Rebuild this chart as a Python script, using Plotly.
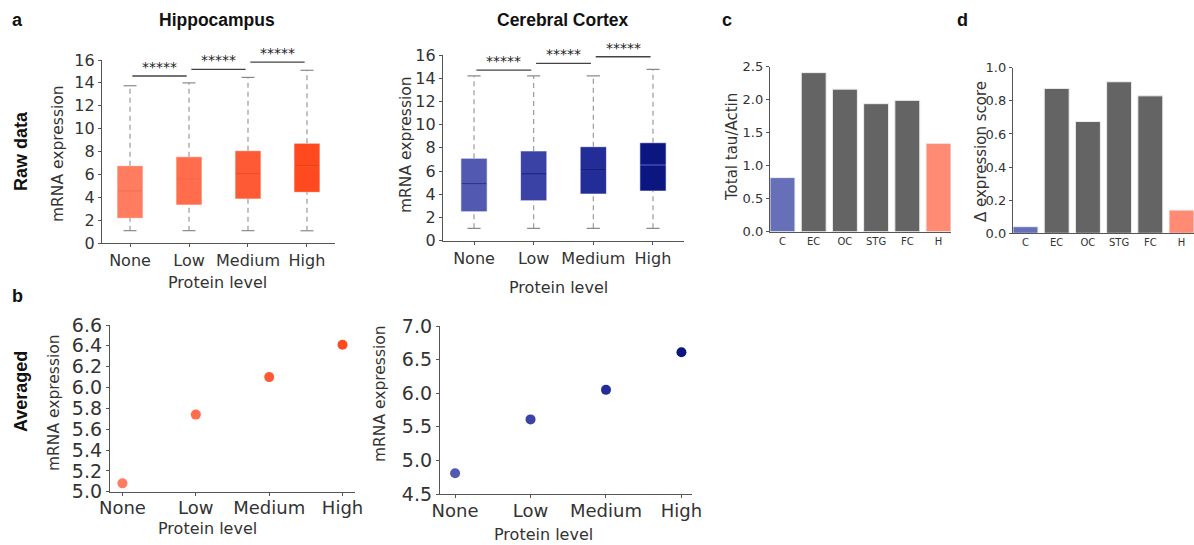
import plotly.graph_objects as go

W, H = 1194, 545

# ---------------- data ----------------
levels = ["None", "Low", "Medium", "High"]

hip_q1 = [2.16, 3.32, 3.85, 4.43]
hip_median = [4.55, 5.6, 6.09, 6.76]
hip_q3 = [6.76, 7.54, 8.07, 8.72]
hip_whisker_low = [1.08, 1.08, 1.08, 1.07]
hip_whisker_high = [13.75, 14.0, 14.48, 15.1]
hip_sig_y = [14.6, 15.18, 15.82]

ctx_q1 = [2.5, 3.45, 4.02, 4.28]
ctx_median = [4.9, 5.8, 6.15, 6.52]
ctx_q3 = [7.1, 7.73, 8.1, 8.44]
ctx_whisker_low = [1.07, 1.07, 1.07, 1.07]
ctx_whisker_high = [14.2, 14.2, 14.2, 14.77]
ctx_sig_y = [14.7, 15.28, 15.85]

hip_avg = [5.08, 5.74, 6.10, 6.41]
ctx_avg = [4.81, 5.61, 6.05, 6.61]

regions = ["C", "EC", "OC", "STG", "FC", "H"]
tau_actin = [0.82, 2.41, 2.16, 1.94, 1.99, 1.34]
delta_score = [0.04, 0.875, 0.675, 0.915, 0.83, 0.14]

sig_label = "*****"

# ---------------- styles ----------------
hip_colors = ["#FF7C60", "#FF6D4D", "#FF5A36", "#FF4A20"]
hip_median_colors = ["#F5674A", "#F55B3A", "#EE4D28", "#EA4218"]
ctx_colors = ["#5159B0", "#3A42A5", "#232D97", "#0B1680"]
ctx_median_colors = ["#2D3596", "#1D2690", "#141C80", "#2A36A0"]
bar_colors = ["#6570B8", "#646464", "#646464", "#646464", "#646464", "#FF8B74"]

AX = "#555555"
TXT = "#333333"
FONT = "DejaVu Sans"
BOLD = "Liberation Sans"


def fx(px):
    return px / W


def fy(py):
    return 1 - py / H


fig = go.Figure()


def box_panel(n, q1, med, q3, wlo, whi, sig, colors, mcolors):
    xa, ya = ("x" if n == 1 else f"x{n}"), ("y" if n == 1 else f"y{n}")
    xs = list(range(len(levels)))
    for i in xs:
        # whiskers (dashed)
        fig.add_trace(go.Scatter(
            x=[i, i, None, i, i], y=[wlo[i], q1[i], None, q3[i], whi[i]],
            mode="lines", line=dict(color="#9a9a9a", width=1.2, dash="5px,4px"),
            xaxis=xa, yaxis=ya, showlegend=False, hoverinfo="skip"))
        # caps
        fig.add_trace(go.Scatter(
            x=[i - 0.11, i + 0.11, None, i - 0.11, i + 0.11],
            y=[wlo[i], wlo[i], None, whi[i], whi[i]],
            mode="lines", line=dict(color="#8a8a8a", width=1.2),
            xaxis=xa, yaxis=ya, showlegend=False, hoverinfo="skip"))
        # box
        fig.add_trace(go.Box(
            x=[i], q1=[q1[i]], median=[med[i]], q3=[q3[i]],
            lowerfence=[q1[i]], upperfence=[q3[i]],
            width=0.44, fillcolor=colors[i],
            line=dict(color="rgba(255,255,255,0.6)", width=1),
            whiskerwidth=0, xaxis=xa, yaxis=ya, showlegend=False, hoverinfo="skip"))
        # median line
        fig.add_trace(go.Scatter(
            x=[i - 0.21, i + 0.21], y=[med[i], med[i]], mode="lines",
            line=dict(color=mcolors[i], width=1.5),
            xaxis=xa, yaxis=ya, showlegend=False, hoverinfo="skip"))
    # significance bars
    for k, s in enumerate(sig):
        fig.add_trace(go.Scatter(
            x=[k + 0.04, k + 0.96], y=[s, s], mode="lines",
            line=dict(color="#444444", width=1.3),
            xaxis=xa, yaxis=ya, showlegend=False, hoverinfo="skip"))
        fig.add_annotation(x=k + 0.5, y=s, xref=xa, yref=ya, text=sig_label,
                           showarrow=False, yanchor="bottom", yshift=-1,
                           font=dict(family=FONT, size=14, color="#222"))


box_panel(1, hip_q1, hip_median, hip_q3, hip_whisker_low, hip_whisker_high,
          hip_sig_y, hip_colors, hip_median_colors)
box_panel(2, ctx_q1, ctx_median, ctx_q3, ctx_whisker_low, ctx_whisker_high,
          ctx_sig_y, ctx_colors, ctx_median_colors)

fig.add_trace(go.Bar(x=list(range(len(regions))), y=tau_actin, marker=dict(
    color=bar_colors, line=dict(color="#eeeeee", width=1)), width=0.8,
    xaxis="x3", yaxis="y3", showlegend=False, hoverinfo="skip"))
fig.add_trace(go.Bar(x=list(range(len(regions))), y=delta_score, marker=dict(
    color=bar_colors, line=dict(color="#eeeeee", width=1)), width=0.8,
    xaxis="x4", yaxis="y4", showlegend=False, hoverinfo="skip"))

fig.add_trace(go.Scatter(x=list(range(4)), y=hip_avg, mode="markers",
                         marker=dict(color=hip_colors, size=10),
                         xaxis="x5", yaxis="y5", showlegend=False, hoverinfo="skip"))
fig.add_trace(go.Scatter(x=list(range(4)), y=ctx_avg, mode="markers",
                         marker=dict(color=ctx_colors, size=10),
                         xaxis="x6", yaxis="y6", showlegend=False, hoverinfo="skip"))


def xaxis(anchor, x0, x1, rng, ticktext, size, ticks="outside", standoff=0):
    return dict(domain=[fx(x0), fx(x1)], anchor=anchor, range=rng, automargin=False,
                tickmode="array", tickvals=list(range(len(ticktext))), ticktext=ticktext,
                showline=True, linecolor=AX, linewidth=1.3, ticks=ticks, ticklen=3,
                tickcolor=AX, showgrid=False, zeroline=False, ticklabelstandoff=standoff,
                tickfont=dict(family=FONT, size=size, color=TXT), fixedrange=True)


def yaxis(anchor, y_top, y_bot, rng, dtick, fmt, size):
    return dict(domain=[fy(y_bot), fy(y_top)], anchor=anchor, range=rng, automargin=False,
                tick0=rng[0], dtick=dtick, tickformat=fmt,
                showline=True, linecolor=AX, linewidth=1.3, ticks="outside", ticklen=3,
                tickcolor=AX, showgrid=False, zeroline=False,
                tickfont=dict(family=FONT, size=size, color=TXT), fixedrange=True)


fig.update_layout(
    width=W, height=H, margin=dict(l=0, r=0, t=0, b=0, pad=0, autoexpand=False),
    paper_bgcolor="white", plot_bgcolor="white", boxmode="overlay", bargap=0.2,
    xaxis=xaxis("y", 102, 335, [-0.475, 3.475], levels, 16),
    yaxis=yaxis("x", 60, 243, [0, 16], 2, "d", 16),
    xaxis2=xaxis("y2", 443, 684, [-0.52, 3.52], levels, 16),
    yaxis2=yaxis("x2", 55, 240.7, [0, 16], 2, "d", 16),
    xaxis3=xaxis("y3", 770, 951, [-0.4, 5.4], regions, 10, ticks=""),
    yaxis3=yaxis("x3", 66.7, 231.7, [0, 2.5], 0.5, ".1f", 13),
    xaxis4=xaxis("y4", 1013, 1194, [-0.4, 5.4], regions, 10, ticks=""),
    yaxis4=yaxis("x4", 67.7, 233.3, [0, 1.0], 0.2, ".1f", 13),
    xaxis5=xaxis("y5", 110, 355, [-0.17, 3.17], levels, 18, standoff=-3),
    yaxis5=yaxis("x5", 325, 491.7, [5.0, 6.6], 0.2, ".1f", 19),
    xaxis6=xaxis("y6", 440, 692, [-0.2, 3.14], levels, 18, standoff=-3),
    yaxis6=yaxis("x6", 326, 494, [4.5, 7.0], 0.5, ".1f", 19),
)


def label(text, x, y, size, family=FONT, bold=False, angle=0, color=TXT):
    fig.add_annotation(text=f"<b>{text}</b>" if bold else text, x=fx(x), y=fy(y),
                       xref="paper", yref="paper", showarrow=False, textangle=angle,
                       xanchor="center", yanchor="middle",
                       font=dict(family=family, size=size, color=color))


# panel letters and titles
label("a", 17, 20, 18, BOLD, True, color="#111")
label("b", 17, 296, 18, BOLD, True, color="#111")
label("c", 727, 20, 18, BOLD, True, color="#111")
label("d", 962, 20, 18, BOLD, True, color="#111")
label("Hippocampus", 217, 20, 17.5, BOLD, True, color="#111")
label("Cerebral Cortex", 563, 20, 17.5, BOLD, True, color="#111")
label("Raw data", 21, 151, 18, BOLD, True, angle=-90, color="#111")
label("Averaged", 21, 392, 18, BOLD, True, angle=-90, color="#111")

# axis titles
label("Protein level", 217, 282, 16)
label("Protein level", 558, 287, 16)
label("Protein level", 207, 528, 16)
label("Protein level", 543, 534, 16)
label("mRNA expression", 58, 154, 15.5, angle=-90)
label("mRNA expression", 406, 145, 15.5, angle=-90)
label("mRNA expression", 54, 403, 15.5, angle=-90)
label("mRNA expression", 380, 394, 15.5, angle=-90)
label("Total tau/Actin", 732, 147, 15, angle=-90)
label("\u0394 expression score", 981, 151, 15, angle=-90)

fig.write_html(
    "out.html",
    config={"displayModeBar": False},
    post_script="document.body.style.margin='0';document.body.style.overflow='hidden';",
)
